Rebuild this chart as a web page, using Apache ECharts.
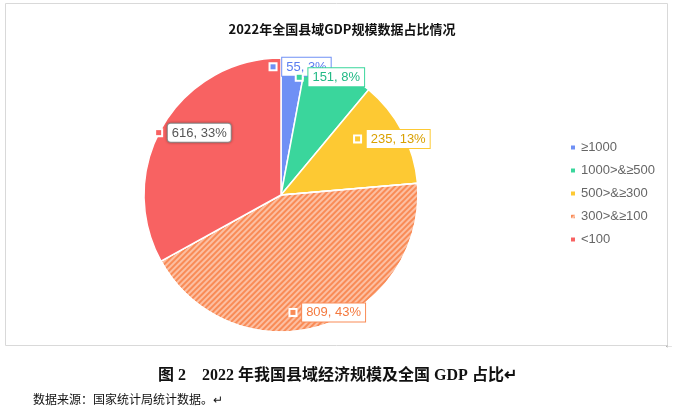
<!DOCTYPE html>
<html><head><meta charset="utf-8">
<script src="https://cdn.jsdelivr.net/npm/echarts@6/dist/echarts.min.js"></script>
<style>html,body{margin:0;padding:0;background:#fff}#c{width:675px;height:411px}</style>
</head><body><div id="c"></div>
<script>
const categories = ['≥1000', '1000>&≥500', '500>&≥300', '300>&≥100', '<100'];
const values = [55, 151, 235, 809, 616];
const percents = ['3%', '8%', '13%', '43%', '33%'];
const colors = ['#6f90f5', '#3ad69c', '#fdc933', '#f98b56', '#f86262'];
const textColors = ['#5b7df0', '#22b985', '#d9a000', '#f47a3f', '#555555'];
const labelOffsets = [[13,-57],[19,-53],[48,-23],[26,49],[-26,-26]];

const chart = echarts.init(document.getElementById('c'));
const data = values.map((v, i) => ({
  name: categories[i], value: v,
  itemStyle: Object.assign({color: colors[i]}, i === 3 ? {decal: {symbol:'rect', dashArrayX:[1,0], dashArrayY:[2,2], rotation:-Math.PI/4, color:'rgba(255,255,255,0.45)', symbolSize:1}} : {}),
  label: {
    offset: labelOffsets[i],
    formatter: '{m|}  {v|' + v + ', ' + percents[i] + '}',
    rich: {
      m: {width:5, height:5, backgroundColor: colors[i], borderColor:'#fff', borderWidth:2},
      v: {color: textColors[i], fontSize:13, fontFamily:'Liberation Sans', backgroundColor:'#fff', borderColor: i === 4 ? '#999' : colors[i], borderWidth:1, padding:[3,4,2,4], borderRadius: i === 4 ? 3 : 0, shadowColor: i===4?'rgba(0,0,0,0.3)':'transparent', shadowBlur: i===4?3:0}
    }
  }
}));
chart.setOption({
  animation: false,
  aria: {enabled: true, decal: {show: false}},
  title: {text: '2022年全国县域GDP规模数据占比情况', left: 337, top: 18, textAlign: 'center',
    textStyle: {fontSize: 13, fontWeight: 'bold', color: '#111', fontFamily: 'Noto Sans CJK SC'}},
  legend: {orient: 'vertical', left: 564, top: 136, itemGap: 10, itemWidth: 6, itemHeight: 6, icon: 'rect',
    textStyle: {color: '#666', fontSize: 13, fontFamily: 'Liberation Sans'}, data: categories},
  series: [{
    type: 'pie', center: [281, 195], radius: [0, 137], startAngle: 90, clockwise: true,
    avoidLabelOverlap: false,
    itemStyle: {borderColor: '#fff', borderWidth: 1.5},
    label: {show: true, position: 'inside'}, labelLine: {show: false},
    labelLayout: {hideOverlap: false},
    data: data
  }],
  graphic: [
    {type:'rect', shape:{x:5.5,y:3.5,width:662,height:342}, style:{fill:'none', stroke:'#d9d9d9', lineWidth:1}},
    {type:'text', left:'center', top:368, style:{text:'图 2    2022 年我国县域经济规模及全国 GDP 占比↵', font:'bold 16px "Liberation Serif", "Noto Sans CJK SC"', fill:'#111'}},
    {type:'text', left:33, top:393, style:{text:'数据来源：国家统计局统计数据。↵', font:'12px "Noto Sans CJK SC"', fill:'#111'}},
    {type:'text', left:664, top:340, style:{text:'←', font:'10px sans-serif', fill:'#999'}}
  ]
});
</script></body></html>
